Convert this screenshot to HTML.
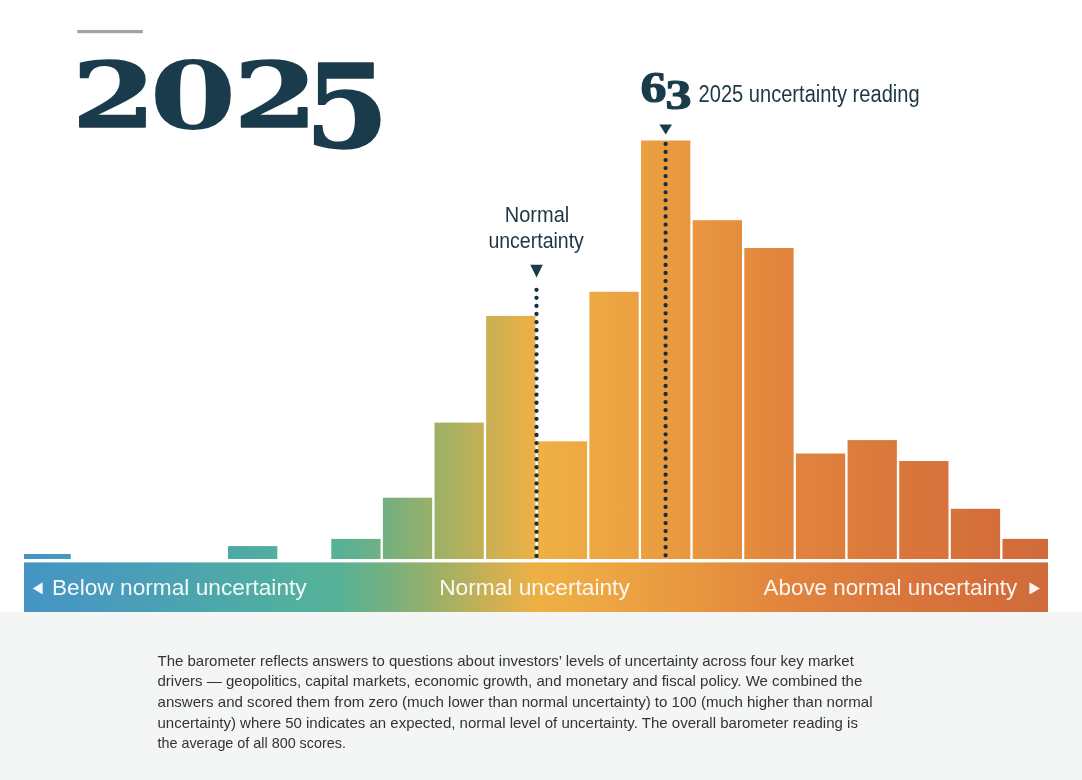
<!DOCTYPE html>
<html lang="en">
<head>
<meta charset="utf-8">
<title>2025 uncertainty barometer</title>
<style>
html,body{margin:0;padding:0;background:#fff;}
body{width:1082px;height:780px;overflow:hidden;position:relative;font-family:"Liberation Sans",sans-serif;}
svg{position:absolute;left:0;top:0;display:block;}
.serif{font-family:"Liberation Serif",serif;font-weight:bold;fill:#1a3b4b;}
.title{font-family:"DejaVu Serif","Liberation Serif",serif;font-weight:bold;fill:#1a3b4b;}
.cond{font-family:"Liberation Sans",sans-serif;fill:#1d3740;}
.band{font-family:"Liberation Sans",sans-serif;fill:#fff;fill-opacity:.93;font-size:22.8px;}
.para{font-family:"Liberation Sans",sans-serif;fill:#333;font-size:14.8px;}
</style>
</head>
<body>
<svg width="1082" height="780" viewBox="0 0 1082 780">
<defs>
<linearGradient id="g" gradientUnits="userSpaceOnUse" x1="24" y1="0" x2="1048" y2="0">
<stop offset="0" stop-color="#4594c5"/>
<stop offset="0.1" stop-color="#499db9"/>
<stop offset="0.19" stop-color="#4da8a9"/>
<stop offset="0.27" stop-color="#52b09d"/>
<stop offset="0.31" stop-color="#58b196"/>
<stop offset="0.36" stop-color="#79b07c"/>
<stop offset="0.41" stop-color="#a2b064"/>
<stop offset="0.455" stop-color="#cbb053"/>
<stop offset="0.5" stop-color="#eeb045"/>
<stop offset="0.58" stop-color="#eca442"/>
<stop offset="0.66" stop-color="#e8953f"/>
<stop offset="0.75" stop-color="#e1833d"/>
<stop offset="0.85" stop-color="#da773c"/>
<stop offset="0.93" stop-color="#d5703b"/>
<stop offset="1" stop-color="#cf6a3b"/>
</linearGradient>
</defs>
<rect x="0" y="612" width="1082" height="168" fill="#f4f6f6"/>
<rect x="77.3" y="30" width="65.5" height="3.2" fill="#a3a3a3"/>
<!-- title -->
<text class="title" stroke="#1a3b4b" stroke-linejoin="round"><tspan x="72.06" y="127" font-size="89.1" textLength="83.71" lengthAdjust="spacingAndGlyphs" stroke-width="1.5">2</tspan><tspan x="149.34" y="129" font-size="92.7" textLength="87.45" lengthAdjust="spacingAndGlyphs" stroke-width="0">0</tspan><tspan x="233.66" y="127" font-size="89.1" textLength="83.71" lengthAdjust="spacingAndGlyphs" stroke-width="1.5">2</tspan><tspan x="304.8" y="147" font-size="116.2" textLength="84.2" lengthAdjust="spacingAndGlyphs" stroke-width="1.5">5</tspan></text>
<!-- bars -->
<g fill="url(#g)">
<rect x="24.00" y="554.00" width="46.78" height="5.00"/>
<rect x="228.00" y="546.10" width="49.30" height="12.90"/>
<rect x="331.26" y="538.90" width="49.30" height="20.10"/>
<rect x="382.89" y="497.70" width="49.30" height="61.30"/>
<rect x="434.52" y="422.60" width="49.30" height="136.40"/>
<rect x="486.15" y="315.90" width="49.30" height="243.10"/>
<rect x="537.78" y="441.30" width="49.30" height="117.70"/>
<rect x="589.41" y="291.80" width="49.30" height="267.20"/>
<rect x="641.04" y="140.50" width="49.30" height="418.50"/>
<rect x="692.67" y="220.20" width="49.30" height="338.80"/>
<rect x="744.30" y="248.00" width="49.30" height="311.00"/>
<rect x="795.93" y="453.50" width="49.30" height="105.50"/>
<rect x="847.56" y="440.10" width="49.30" height="118.90"/>
<rect x="899.19" y="461.00" width="49.30" height="98.00"/>
<rect x="950.82" y="508.80" width="49.30" height="50.20"/>
<rect x="1002.45" y="538.90" width="45.55" height="20.10"/>
<rect x="24" y="562.4" width="1024" height="49.6"/>
</g>
<!-- dotted lines -->
<g stroke="#15303a" stroke-width="4.3" stroke-linecap="round" stroke-dasharray="0 8.067" fill="none">
<path d="M536.5 289.8V556.5"/>
<path d="M665.6 143.9V556"/>
</g>
<g fill="#1a3b4b">
<path d="M530.3 264.8h12.5l-6.25 12.6z"/>
<path d="M659.4 124.6h12.6l-6.3 9.8z"/>
</g>
<!-- annotation labels -->
<g class="cond">
<text x="504.8" y="222.4" font-size="22" textLength="64.4" lengthAdjust="spacingAndGlyphs">Normal</text>
<text x="488.4" y="247.5" font-size="22" textLength="95.5" lengthAdjust="spacingAndGlyphs">uncertainty</text>
<text x="698.6" y="102.1" font-size="23" textLength="221" lengthAdjust="spacingAndGlyphs">2025 uncertainty reading</text>
</g>
<text class="serif" stroke="#1a3b4b" stroke-width="1.2" stroke-linejoin="round"><tspan x="640.5" y="102.2" font-size="45" textLength="26" lengthAdjust="spacingAndGlyphs">6</tspan><tspan x="665.5" y="109.2" font-size="42" textLength="26" lengthAdjust="spacingAndGlyphs">3</tspan></text>
<!-- band labels -->
<g class="band">
<path d="M32.8 588.4l9.9-6.2v12.4z" fill="#fff"/>
<text x="51.9" y="595.1" textLength="254.8" lengthAdjust="spacingAndGlyphs">Below normal uncertainty</text>
<text x="439.2" y="595.1" textLength="190.6" lengthAdjust="spacingAndGlyphs">Normal uncertainty</text>
<text x="763.6" y="595.1" textLength="253.6" lengthAdjust="spacingAndGlyphs">Above normal uncertainty</text>
<path d="M1040 588.4l-10.6-6.2v12.4z" fill="#fff"/>
</g>
<g class="para">
<text x="157.5" y="665.80" textLength="696.3" lengthAdjust="spacingAndGlyphs">The barometer reflects answers to questions about investors’ levels of uncertainty across four key market</text>
<text x="157.5" y="686.45" textLength="704.8" lengthAdjust="spacingAndGlyphs">drivers — geopolitics, capital markets, economic growth, and monetary and fiscal policy. We combined the</text>
<text x="157.5" y="707.10" textLength="715.1" lengthAdjust="spacingAndGlyphs">answers and scored them from zero (much lower than normal uncertainty) to 100 (much higher than normal</text>
<text x="157.5" y="727.75" textLength="700.4" lengthAdjust="spacingAndGlyphs">uncertainty) where 50 indicates an expected, normal level of uncertainty. The overall barometer reading is</text>
<text x="157.5" y="748.40" textLength="188.4" lengthAdjust="spacingAndGlyphs">the average of all 800 scores.</text>
</g>
</svg>
</body>
</html>
